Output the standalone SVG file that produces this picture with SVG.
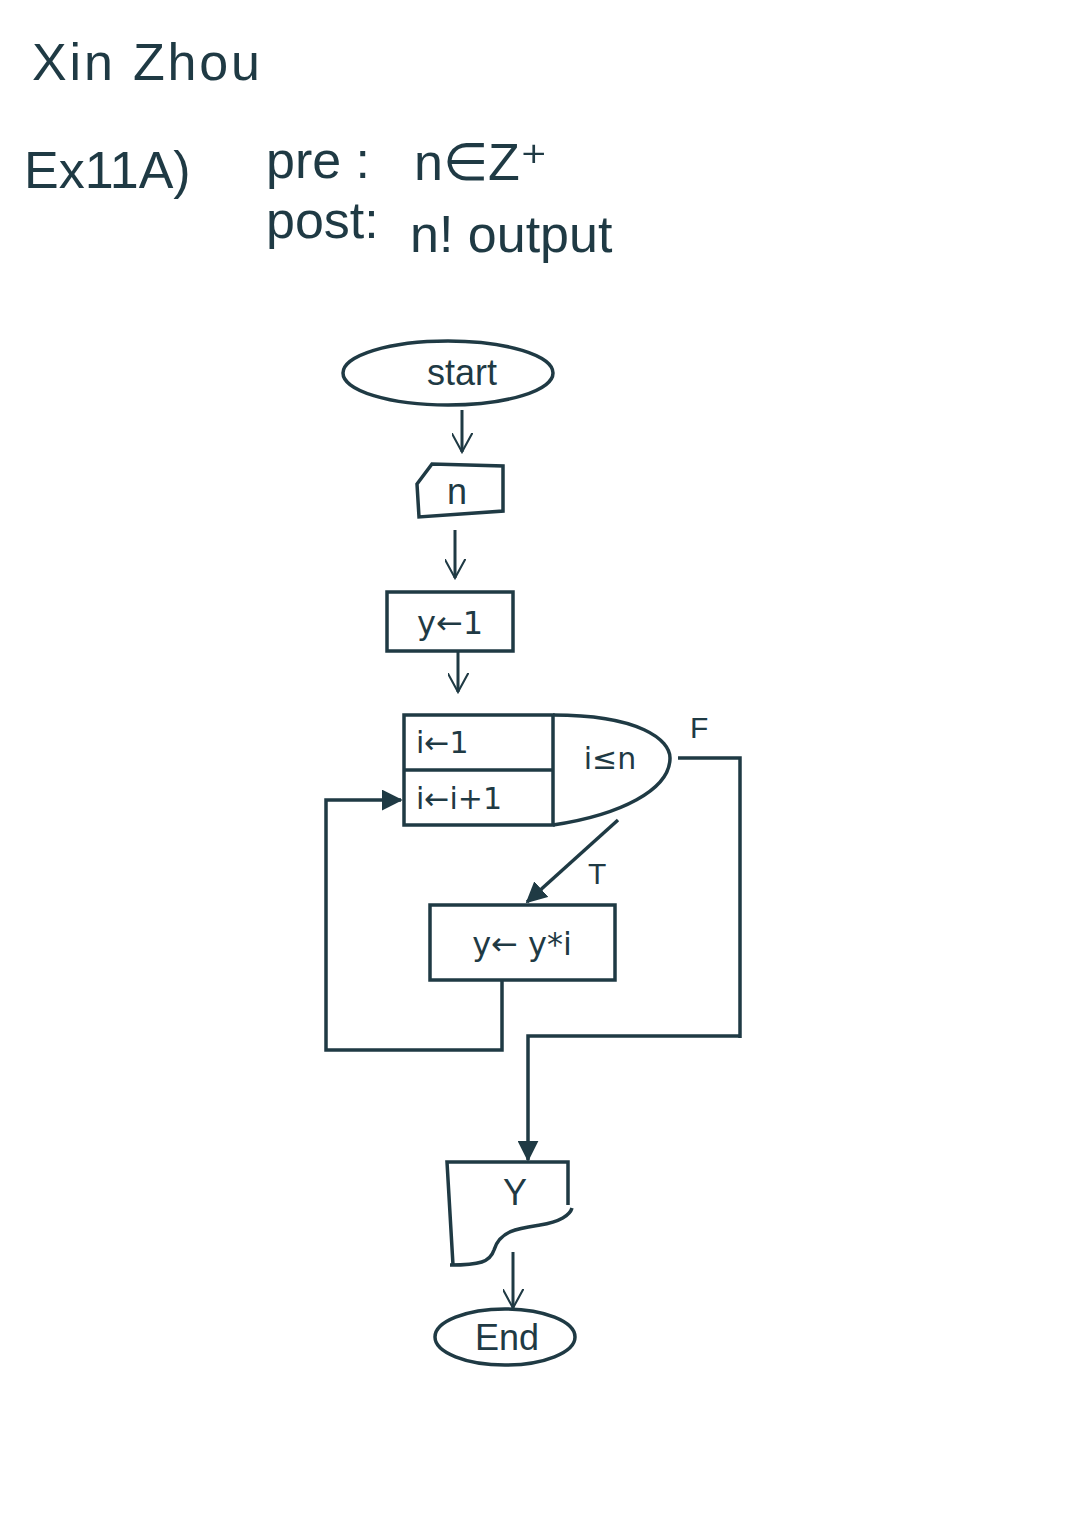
<svg xmlns="http://www.w3.org/2000/svg" width="1080" height="1526" viewBox="0 0 1080 1526">
<defs>
<style>
.s{fill:none;stroke:#1f3a44;stroke-width:3.5;stroke-linejoin:miter}
.c{fill:none;stroke:#1f3a44;stroke-width:3}
.t{font-family:"Liberation Sans",Arial,sans-serif;fill:#1f3a44}
.a{font-family:"DejaVu Sans",sans-serif;fill:#1f3a44}
.h{font-size:52px}
.n{font-size:36px}
.l{font-size:30px}
</style>
<marker id="fa" viewBox="0 0 12 12" refX="11" refY="6" markerWidth="6" markerHeight="6" orient="auto" markerUnits="strokeWidth">
<path d="M0,0 L12,6 L0,12 z" fill="#1f3a44"/>
</marker>
<marker id="oa" viewBox="0 0 12 12" refX="11" refY="6" markerWidth="7" markerHeight="7" orient="auto" markerUnits="strokeWidth">
<path d="M0,0 L11,6 L0,12" fill="none" stroke="#1f3a44" stroke-width="1.2"/>
</marker>
</defs>
<rect width="1080" height="1526" fill="#ffffff"/>

<g id="header">
<text class="t h" x="32" y="80" font-size="56" textLength="228">Xin Zhou</text>
<text class="t h" x="24" y="188">Ex11A)</text>
<text class="t h" x="266" y="178">pre :</text>
<text class="t h" x="414" y="180">n∈Z⁺</text>
<text class="t h" x="266" y="238">post:</text>
<text class="t h" x="410" y="252">n! output</text>
</g>

<g id="connectors">
<line class="c" x1="462" y1="410" x2="462" y2="452" marker-end="url(#oa)"/>
<line class="c" x1="455" y1="530" x2="455" y2="578" marker-end="url(#oa)"/>
<line class="c" x1="458" y1="652" x2="458" y2="692" marker-end="url(#oa)"/>
<line class="s" x1="618" y1="820" x2="527" y2="902" marker-end="url(#fa)"/>
<polyline class="s" points="502,980 502,1050 326,1050 326,800 401,800" marker-end="url(#fa)"/>
<polyline class="s" points="678,758 740,758 740,1038"/>
<polyline class="s" points="740,1036 528,1036 528,1160" marker-end="url(#fa)"/>
<line class="c" x1="513" y1="1252" x2="513" y2="1308" marker-end="url(#oa)"/>
<text class="t l" x="690" y="738">F</text>
<text class="t l" x="588" y="884">T</text>
</g>

<g id="start">
<ellipse class="s" cx="448" cy="373" rx="105" ry="32"/>
<text class="t n" x="462" y="385" text-anchor="middle">start</text>
</g>

<g id="input-n">
<polygon class="s" points="417,484 432,464 503,466 503,511 419,517"/>
<text class="t n" x="457" y="504" text-anchor="middle">n</text>
</g>

<g id="init-y">
<rect class="s" x="387" y="592" width="126" height="59"/>
<text class="a" font-size="32" x="450" y="634" text-anchor="middle">y←1</text>
</g>

<g id="loop">
<rect class="s" x="404" y="715" width="149" height="110"/>
<line class="s" x1="404" y1="770" x2="553" y2="770"/>
<path class="s" d="M553,715 C640,715 670,740 670,758 C670,790 620,815 553,825"/>
<text class="a" font-size="30" x="416" y="753">i←1</text>
<text class="a" font-size="30" x="416" y="809">i←i+1</text>
<text class="a" font-size="30" x="610" y="769" text-anchor="middle">i≤n</text>
</g>

<g id="multiply">
<rect class="s" x="430" y="905" width="185" height="75"/>
<text class="a" font-size="32" x="522" y="955" text-anchor="middle">y← y*i</text>
</g>

<g id="output-y">
<path class="s" d="M568,1205 L568,1162 L447,1162 L453,1265"/>
<path class="s" d="M450,1265 C480,1265 490,1262 494,1250 C500,1230 520,1228 540,1225 C560,1222 570,1215 572,1208"/>
<text class="t n" x="515" y="1205" text-anchor="middle">Y</text>
</g>

<g id="end">
<ellipse class="s" cx="505" cy="1337" rx="70" ry="28"/>
<text class="t n" x="507" y="1350" text-anchor="middle">End</text>
</g>
</svg>
